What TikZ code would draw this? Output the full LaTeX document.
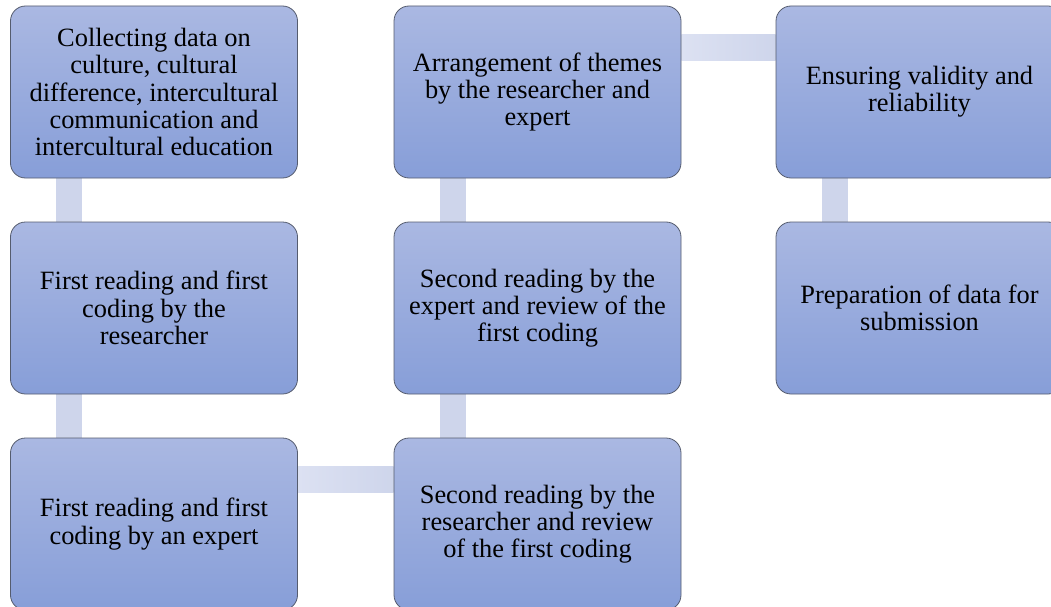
\documentclass[tikz,border=0pt]{standalone}
\usepackage{fontspec}
\setmainfont{Liberation Serif}
\usetikzlibrary{backgrounds}
\definecolor{boxtop}{RGB}{170,184,226}
\definecolor{boxbot}{RGB}{135,158,216}
\definecolor{boxline}{RGB}{85,92,110}
\definecolor{barA}{RGB}{220,225,242}
\definecolor{barB}{RGB}{206,213,235}
\tikzset{
  stepbox/.style={rectangle, rounded corners=15pt, draw=boxline, line width=0.8pt,
    top color=boxtop, bottom color=boxbot, minimum width=287pt, minimum height=172pt,
    align=center, inner sep=4pt, font=\fontsize{26.4}{27.2}\selectfont},
  vbar/.style={fill=barB},
  hbar/.style={left color=barA, right color=barB}
}
\begin{document}
\begin{tikzpicture}[x=1pt,y=-1pt]
\useasboundingbox (0,0) rectangle (1051,607);
\clip (0,0) rectangle (1051,607);
\node[stepbox] (a) at (154,92) {Collecting data on\\culture, cultural\\difference, intercultural\\communication and\\intercultural education};
\node[stepbox] (b) at (154,308) {First reading and first\\coding by the\\researcher};
\node[stepbox] (c) at (154,524) {First reading and first\\coding by an expert};
\node[stepbox] (d) at (537.5,524) {Second reading by the\\researcher and review\\of the first coding};
\node[stepbox] (e) at (537.5,308) {Second reading by the\\expert and review of the\\first coding};
\node[stepbox] (f) at (537.5,92) {Arrangement of themes\\by the researcher and\\expert};
\node[stepbox] (g) at (919.5,92) {Ensuring validity and\\reliability};
\node[stepbox] (h) at (919.5,308) {Preparation of data for\\submission};
\begin{scope}[on background layer]
\fill[vbar] ([xshift=46pt]a.south west) rectangle ([xshift=72pt]b.north west);
\fill[vbar] ([xshift=46pt]b.south west) rectangle ([xshift=72pt]c.north west);
\shade[hbar] ([yshift=-29pt]c.north east) rectangle ([yshift=-55pt]d.north west);
\fill[vbar] ([xshift=46pt]e.south west) rectangle ([xshift=72pt]d.north west);
\fill[vbar] ([xshift=46pt]f.south west) rectangle ([xshift=72pt]e.north west);
\shade[hbar] ([yshift=-29pt]f.north east) rectangle ([yshift=-55pt]g.north west);
\fill[vbar] ([xshift=46pt]g.south west) rectangle ([xshift=72pt]h.north west);
\end{scope}
\end{tikzpicture}
\end{document}
